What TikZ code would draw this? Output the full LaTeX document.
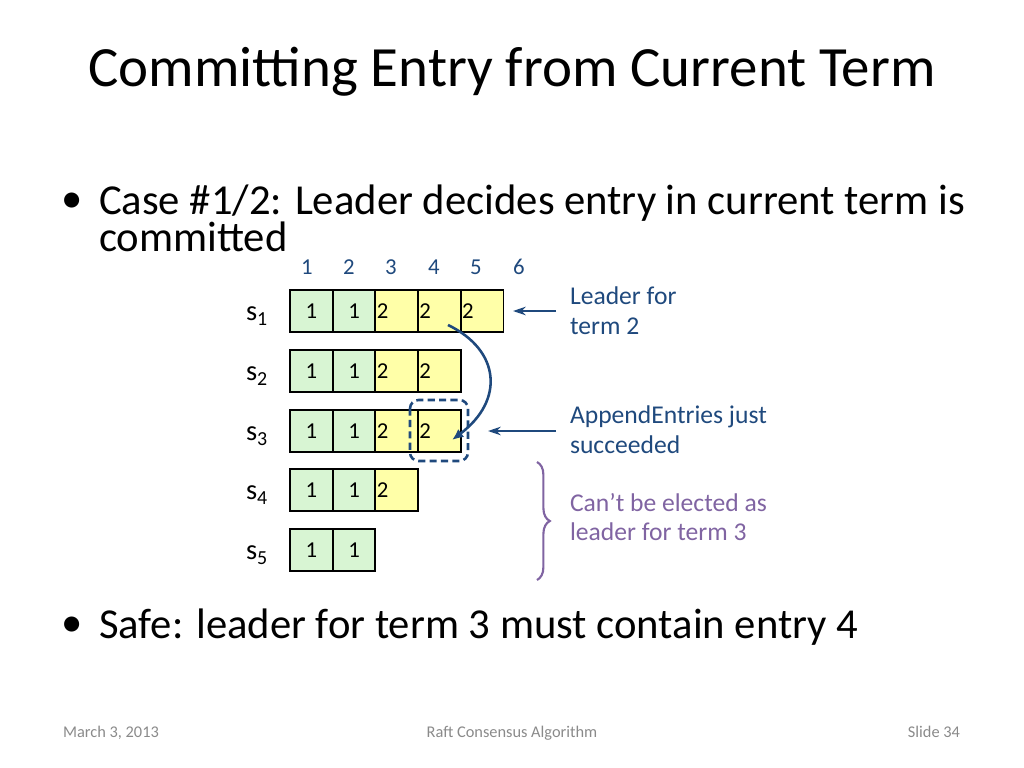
\documentclass[tikz,border=0pt]{standalone}
\usepackage{fontspec}
\setmainfont{Carlito}
\usetikzlibrary{decorations.pathreplacing,arrows.meta}
\definecolor{gcell}{HTML}{D8F5D3}
\definecolor{ycell}{HTML}{FFFFA8}
\definecolor{dblue}{HTML}{1F497D}
\definecolor{purp}{HTML}{8064A2}
\definecolor{foot}{HTML}{8A8A8A}
\begin{document}
\begin{tikzpicture}[x=0.703pt,y=-0.703pt,
  cell/.style={draw=black,line width=1.4pt,minimum width=42.7*0.703pt,minimum height=42*0.703pt,inner sep=0,outer sep=0,anchor=north west,font=\fontsize{16}{18}\selectfont},
  g/.style={cell,fill=gcell},
  yl/.style={cell,fill=ycell,align=left,text width=40*0.703pt},
  idx/.style={text=dblue,font=\fontsize{16}{18}\selectfont},
  srv/.style={font=\fontsize{20}{22}\selectfont},
  lbl/.style={text=dblue,font=\fontsize{18}{21}\selectfont,align=left,anchor=west},
  bul/.style={font=\fontsize{30}{32}\selectfont,anchor=west},
  ft/.style={text=foot,font=\fontsize{11.5}{13}\selectfont,anchor=base}]
\useasboundingbox (0,0) rectangle (1024,768);
\node[font=\fontsize{40}{44}\selectfont] (title) at (512,72) {Committing Entry from Current Term};
\node[bul] (b1) at (56,203) {•};
\node[bul,align=left,anchor=north west] (t1) at (94,180) {Case \#1/2: Leader decides entry in current term is\\[-6pt]committed};
\foreach \i/\x in {1/307,2/349,3/391,4/434,5/476,6/519}{\node[idx] (c\i) at (\x,267) {\i};}
\foreach \r/\y in {1/290,2/350,3/410,4/469,5/529}{
  \node[srv] (s\r) at (257,\y+26) {s\textsubscript{\r}};}
\foreach \r/\y/\n in {1/290/5,2/350/4,3/410/4,4/469/3,5/529/2}{
  \node[g] (r\r c1) at (290,\y) {1};
  \node[g] (r\r c2) at (332.7,\y) {1};
  \ifnum\n>2 \node[yl] (r\r c3) at (375.4,\y) {2};\fi
  \ifnum\n>3 \node[yl] (r\r c4) at (418.1,\y) {2};\fi
  \ifnum\n>4 \node[yl] (r\r c5) at (460.8,\y) {2};\fi
}
\draw[dblue,line width=1.8pt,dash pattern=on 5pt off 3pt,rounded corners=6pt] (410,400) rectangle (468,461);
\draw[dblue,line width=1.8pt,-{Latex[length=8pt,width=7pt]}] (448,325) .. controls (500,350) and (505,400) .. (452,440);
\node[lbl] (l1) at (565,311) {Leader for\\term 2};
\node[lbl] (l2) at (565,430) {AppendEntries just\\succeeded};
\node[lbl,text=purp] (l3) at (565,517) {Can’t be elected as\\leader for term 3};
\coordinate (a1s) at (556,311);
\coordinate (a1e) at (513,311);
\draw[dblue,line width=1.3pt,-{Stealth[length=9pt,width=6pt]}] (a1s) -- (a1e);
\coordinate (a2s) at (556,431);
\coordinate (a2e) at (488,431);
\draw[dblue,line width=1.3pt,-{Stealth[length=9pt,width=6pt]}] (a2s) -- (a2e);
\draw[purp,line width=1.5pt,decorate,decoration={brace,amplitude=9pt}] (537,462) -- (537,580);
\node[bul] (b2) at (56,627) {•};
\node[bul] (t2) at (94,627) {Safe: leader for term 3 must contain entry 4};
\node[ft] (f1) at (111,737) {March 3, 2013};
\node[ft] (f2) at (512,737) {Raft Consensus Algorithm};
\node[ft] (f3) at (934,737) {Slide 34};
\end{tikzpicture}
\end{document}
